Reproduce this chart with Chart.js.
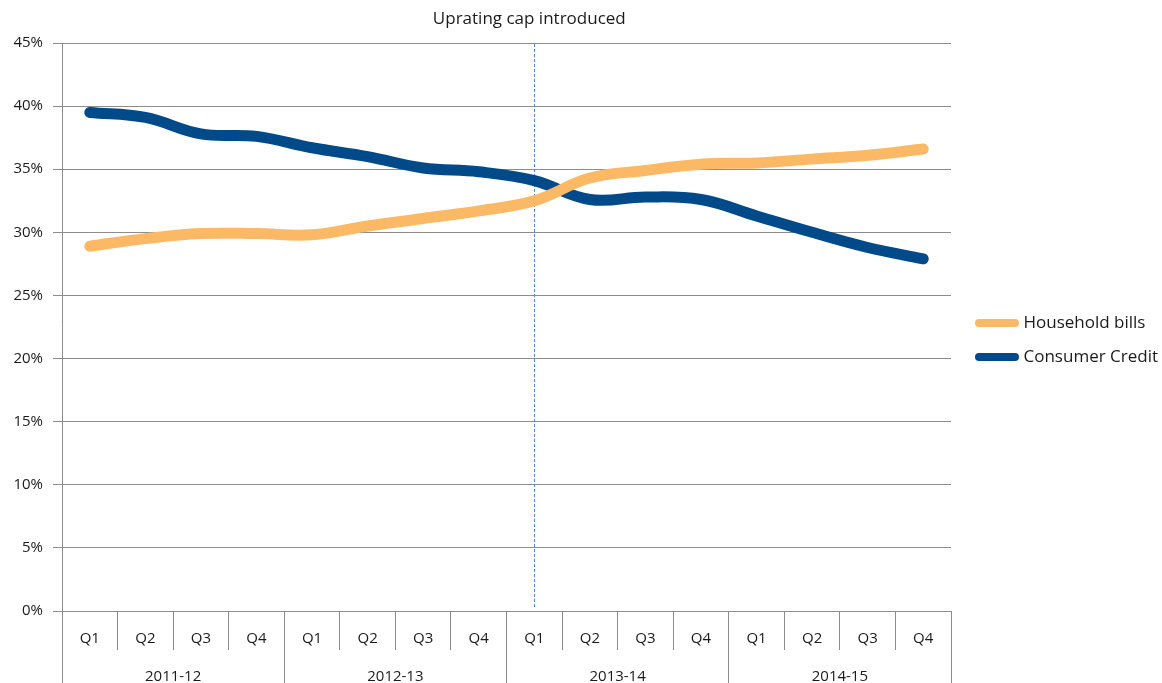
<!DOCTYPE html>
<html>
<head>
<meta charset="utf-8">
<script src="https://cdn.jsdelivr.net/npm/chart.js@4.4.0/dist/chart.umd.min.js"></script>
<style>
  html, body { margin: 0; padding: 0; background: #fff; }
  #wrap { width: 1162px; height: 683px; position: relative; }
</style>
</head>
<body>
<div id="wrap"><canvas id="grafica"></canvas></div>
<script>
// dades llegides del gràfic
const quarters = ["Q1", "Q2", "Q3", "Q4", "Q1", "Q2", "Q3", "Q4", "Q1", "Q2", "Q3", "Q4", "Q1", "Q2", "Q3", "Q4"];
const years = ["2011-12", "2012-13", "2013-14", "2014-15"];
const householdBills = [28.9, 29.5, 29.9, 29.9, 29.8, 30.5, 31.1, 31.7, 32.5, 34.3, 34.9, 35.4, 35.5, 35.8, 36.1, 36.6];
const consumerCredit = [39.5, 39.1, 37.8, 37.6, 36.7, 36.0, 35.1, 34.8, 34.1, 32.6, 32.8, 32.6, 31.3, 30.0, 28.8, 27.9];
const yTicks = [0, 5, 10, 15, 20, 25, 30, 35, 40, 45];
const capIndex = 8;
const capLabel = "Uprating cap introduced";

const fontFamily = "'Open Sans', sans-serif";
Chart.defaults.font.family = fontFamily;
Chart.defaults.font.size = 15;
Chart.defaults.color = "#1a1a1a";

const gridColor = "#8c8c8c";

// línia discontínua de l'uprating cap + desplaçament de la llegenda
const capLine = {
  id: "capLine",
  afterLayout(chart) {
    const shift = 975 + 4 - 17 - chart.legend.left;
    chart.legend.left += shift;
    chart.legend.right += shift;
    chart.legend.top -= 23;
    chart.legend.bottom -= 23;
  },
  beforeDatasetsDraw(chart) {
    const ctx = chart.ctx;
    const x = Math.round(chart.scales.x.getPixelForValue(capIndex)) + 0.5;
    const area = chart.chartArea;
    ctx.save();
    ctx.strokeStyle = "#4f86d9";
    ctx.lineWidth = 1;
    ctx.setLineDash([3, 2]);
    ctx.beginPath();
    ctx.moveTo(x, area.top + 1);
    ctx.lineTo(x, area.bottom - 4);
    ctx.stroke();
    ctx.restore();
  },
  afterDraw(chart) {
    const ctx = chart.ctx;
    const x = chart.scales.x.getPixelForValue(capIndex);
    ctx.save();
    ctx.font = "17px " + fontFamily;
    ctx.fillStyle = "#1a1a1a";
    ctx.textAlign = "center";
    ctx.textBaseline = "middle";
    ctx.fillText(capLabel, x - 5, 19);
    ctx.restore();
  }
};

const data = {
  labels: quarters,
  datasets: [
    {
      label: "Household bills",
      data: householdBills,
      borderColor: "#fbb966",
      backgroundColor: "#fbb966",
      borderWidth: 11,
      borderCapStyle: "round",
      borderJoinStyle: "round",
      pointRadius: 0,
      tension: 0.4
    },
    {
      label: "Consumer Credit",
      data: consumerCredit,
      borderColor: "#004a8a",
      backgroundColor: "#004a8a",
      borderWidth: 11,
      borderCapStyle: "round",
      borderJoinStyle: "round",
      pointRadius: 0,
      tension: 0.4
    }
  ]
};

const config = {
  type: "line",
  data: data,
  plugins: [capLine],
  options: {
    responsive: true,
    maintainAspectRatio: false,
    animation: false,
    layout: { padding: { top: 43, right: 5, bottom: 0, left: 0 } },
    plugins: {
      tooltip: { enabled: false },
      legend: {
        position: "right",
        labels: {
          usePointStyle: true,
          pointStyle: "line",
          pointStyleWidth: 36,
          padding: 17,
          color: "#1a1a1a",
          font: { size: 17 },
          generateLabels(chart) {
            const items = Chart.defaults.plugins.legend.labels.generateLabels(chart);
            items.forEach(it => { it.lineWidth = 8; it.lineCap = "round"; });
            return items;
          }
        }
      }
    },
    scales: {
      x: {
        type: "category",
        position: "bottom",
        offset: true,
        grid: { offset: true, drawOnChartArea: false, color: gridColor, tickLength: 39 },
        border: { color: gridColor },
        ticks: { padding: -20, maxRotation: 0, autoSkip: false },
        afterFit(scale) { scale.height = 39; }
      },
      x2: {
        type: "category",
        position: "bottom",
        labels: years,
        offset: true,
        grid: { offset: true, drawOnChartArea: false, color: gridColor, tickLength: 33 },
        border: { display: false },
        ticks: { padding: -15, maxRotation: 0 },
        afterFit(scale) { scale.height = 33; }
      },
      y: {
        min: 0,
        max: 45,
        afterBuildTicks(scale) { scale.ticks = yTicks.map(v => ({ value: v })); },
        grid: { color: gridColor, tickLength: 9 },
        border: { color: gridColor },
        ticks: { padding: 10, callback: v => v + "%" },
        afterFit(scale) { scale.width = 62; }
      }
    }
  }
};

const grafica = document.getElementById("grafica");
let myChart = new Chart(grafica, config);
</script>
</body>
</html>
